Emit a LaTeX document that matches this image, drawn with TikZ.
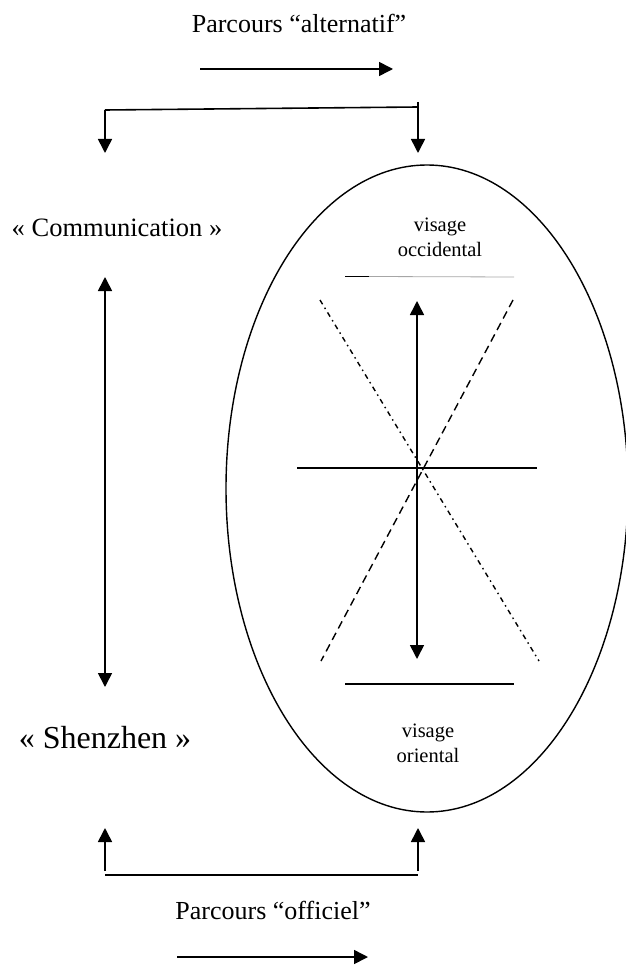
\documentclass[tikz,border=0pt]{standalone}
\usepackage{fontspec}
\setmainfont{Liberation Serif}
\usetikzlibrary{arrows.meta}
\begin{document}
\begin{tikzpicture}[x=1pt,y=-1pt,
  ln/.style={line width=1.6pt},
  arr/.style={ln,-{Triangle[length=14pt,width=14pt]}},
  darr/.style={ln,{Triangle[length=14pt,width=14pt]}-{Triangle[length=14pt,width=14pt]}},
  bigtxt/.style={font=\fontsize{26}{30}\selectfont,inner sep=0pt,anchor=base},
  midtxt/.style={font=\fontsize{26.5}{30}\selectfont,inner sep=0pt,anchor=base},
  hugetxt/.style={font=\fontsize{32}{36}\selectfont,inner sep=0pt,anchor=base},
  smalltxt/.style={font=\fontsize{20.5}{25}\selectfont,inner sep=0pt,align=center,anchor=base}]
\useasboundingbox (0,0) rectangle (625,965);
% texts
\node[bigtxt] (alt) at (299,33) {Parcours “alternatif”};
\node[midtxt] (comm) at (117,237) {« Communication »};
\node[hugetxt] (shz) at (105,748) {« Shenzhen »};
\node[smalltxt] (occ) at (440,257) {visage\\occidental};
\node[smalltxt] (ori) at (428,762) {visage\\oriental};
\node[bigtxt] (off) at (273,919) {Parcours “officiel”};
% ellipse
\draw[line width=1.4pt] (427,488.5) ellipse [x radius=201, y radius=323.5];
% top arrows
\coordinate (altL) at (200,69); \coordinate (altR) at (393,69);
\draw[arr] (altL) -- (altR);
\coordinate (tL) at (105,110); \coordinate (tR) at (418,107); \coordinate (tRtop) at (418,102);
\coordinate (tLtip) at (105,153); \coordinate (tRtip) at (418,153);
\draw[ln] (tL) -- (tR);
\draw[arr] (tL) -- (tLtip);
\draw[arr] (tRtop) -- (tRtip);
% communication double arrow
\coordinate (cTop) at (105,277); \coordinate (cBot) at (105,687);
\draw[darr] (cTop) -- (cBot);
% inside ellipse
\coordinate (l1a) at (345,276.5); \coordinate (l1b) at (369,276.5); \coordinate (l1c) at (514,277);
\draw[ln] (l1a) -- (l1b);
\draw[line width=0.8pt,gray!70] (l1b) -- (l1c);
\coordinate (vTop) at (417,301); \coordinate (vBot) at (417,659);
\draw[darr] (vTop) -- (vBot);
\coordinate (hL) at (297,468); \coordinate (hR) at (537,468);
\draw[ln] (hL) -- (hR);
\coordinate (ddA) at (320,300); \coordinate (ddB) at (539,661);
\draw[line width=1.4pt,dash pattern=on 5pt off 4pt on 1.5pt off 4pt] (ddA) -- (ddB);
\coordinate (dA) at (513,300); \coordinate (dB) at (321,661);
\draw[line width=1.4pt,dash pattern=on 8pt off 5pt] (dA) -- (dB);
\coordinate (l2a) at (345,684); \coordinate (l2b) at (514,684);
\draw[ln] (l2a) -- (l2b);
% bottom arrows
\coordinate (bL) at (105,875); \coordinate (bR) at (418,875);
\draw[ln] (bL) -- (bR);
\coordinate (bLs) at (105,871); \coordinate (bRs) at (418,871);
\coordinate (bLtip) at (105,828); \coordinate (bRtip) at (418,828);
\draw[arr] (bLs) -- (bLtip);
\draw[arr] (bRs) -- (bRtip);
\coordinate (offL) at (177,957); \coordinate (offR) at (368,957);
\draw[arr] (offL) -- (offR);
\end{tikzpicture}
\end{document}
